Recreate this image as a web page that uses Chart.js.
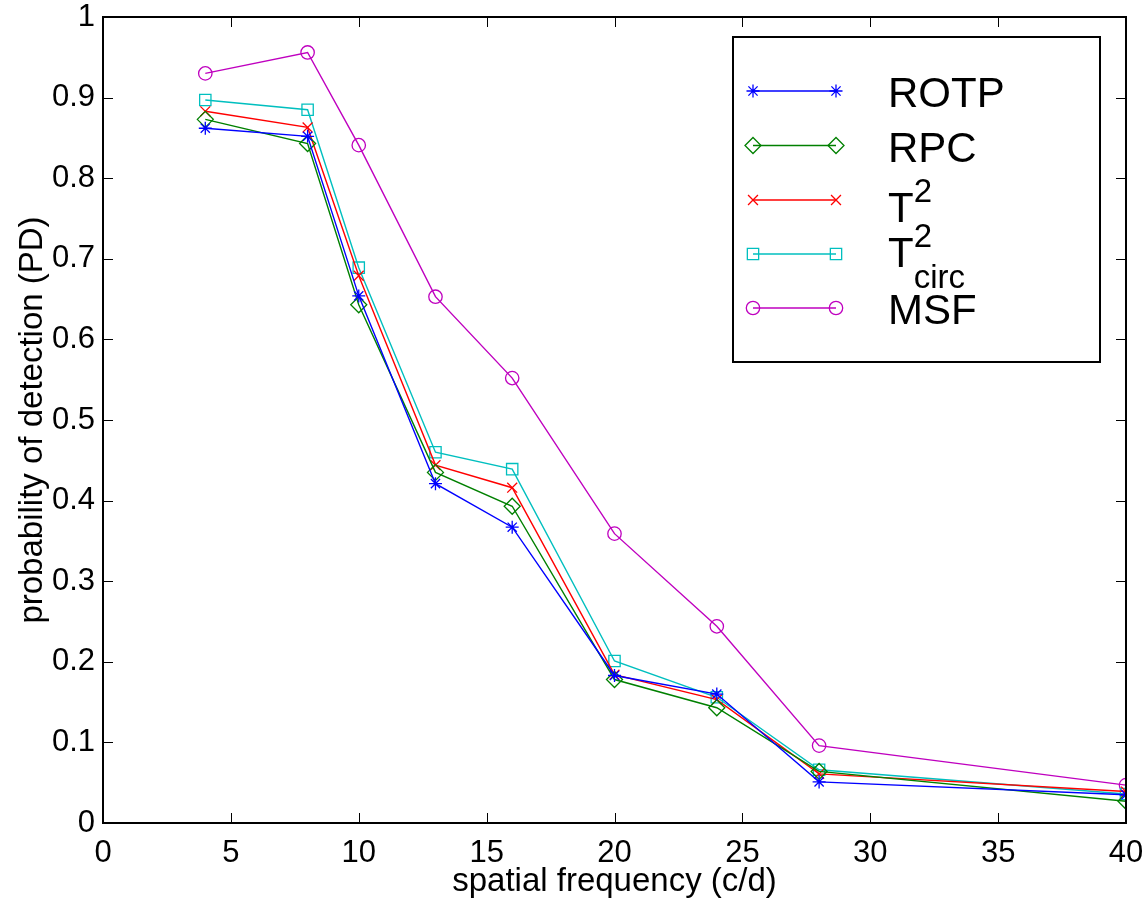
<!DOCTYPE html>
<html>
<head>
<meta charset="utf-8">
<script src="https://cdn.jsdelivr.net/npm/chart.js@4.4.1/dist/chart.umd.min.js"></script>
<style>
  html, body { margin: 0; padding: 0; background: #ffffff; }
  #wrap { width: 1147px; height: 903px; }
</style>
</head>
<body>
<div id="wrap"><canvas id="c" width="1147" height="903"></canvas></div>
<script>
// ---- data ----
const freq  = [4, 8, 10, 13, 16, 20, 24, 28, 40];
const rotp  = [0.862, 0.852, 0.654, 0.421, 0.367, 0.183, 0.160, 0.051, 0.035];
const rpc   = [0.873, 0.843, 0.643, 0.435, 0.393, 0.178, 0.143, 0.064, 0.027];
const t2    = [0.883, 0.863, 0.679, 0.444, 0.416, 0.184, 0.153, 0.061, 0.039];
const t2c   = [0.897, 0.885, 0.689, 0.460, 0.439, 0.201, 0.156, 0.066, 0.036];
const msf   = [0.930, 0.956, 0.841, 0.653, 0.552, 0.359, 0.244, 0.096, 0.047];

const seriesNames = ['ROTP', 'RPC', 'T2', 'T2circ', 'MSF'];
const legendMain = ['ROTP', 'RPC', 'T', 'T', 'MSF'];
const legendSup  = ['', '', '2', '2', ''];
const legendSub  = ['', '', '', 'circ', ''];
const xTicks = [0, 5, 10, 15, 20, 25, 30, 35, 40];
const yTicks = [0, 0.1, 0.2, 0.3, 0.4, 0.5, 0.6, 0.7, 0.8, 0.9, 1];
const xTitle = 'spatial frequency (c/d)';
const yTitle = 'probability of detection (PD)';

const colors = ['#0000ff', '#008000', '#ff0000', '#00bfbf', '#bf00bf'];
const styles = ['star', 'rectRot', 'crossRot', 'rect', 'circle'];
const radii  = [6.5, 8, 7, 8, 6.7];
const allValues = [rotp, rpc, t2, t2c, msf];

const FONT = '"Liberation Sans", Arial, Helvetica, sans-serif';

const datasets = allValues.map((vals, i) => ({
  label: seriesNames[i],
  data: freq.map((f, j) => ({ x: f, y: vals[j] })),
  borderColor: colors[i],
  backgroundColor: 'rgba(0,0,0,0)',
  borderWidth: 1.4,
  pointStyle: styles[i],
  pointRadius: radii[i],
  pointBorderWidth: 1.3,
  pointBorderColor: colors[i],
  pointBackgroundColor: 'rgba(0,0,0,0)',
  tension: 0,
  fill: false
}));

function zeroPad(scale) {
  scale.paddingTop = 0; scale.paddingBottom = 0;
  scale.paddingLeft = 0; scale.paddingRight = 0;
}

// frame + inward ticks
const framePlugin = {
  id: 'frame',
  afterDatasetsDraw(chart) {
    const { ctx, chartArea: a, scales } = chart;
    ctx.save();
    ctx.strokeStyle = '#000';
    ctx.lineWidth = 1;
    const tl = 10;
    xTicks.forEach(v => {
      const px = Math.round(scales.x.getPixelForValue(v)) + 0.5;
      ctx.beginPath();
      ctx.moveTo(px, a.bottom); ctx.lineTo(px, a.bottom - tl);
      ctx.moveTo(px, a.top); ctx.lineTo(px, a.top + tl);
      ctx.stroke();
    });
    yTicks.forEach(v => {
      const py = Math.round(scales.y.getPixelForValue(v)) + 0.5;
      ctx.beginPath();
      ctx.moveTo(a.left, py); ctx.lineTo(a.left + tl, py);
      ctx.moveTo(a.right, py); ctx.lineTo(a.right - tl, py);
      ctx.stroke();
    });
    ctx.lineWidth = 2;
    ctx.strokeRect(a.left, a.top, a.right - a.left, a.bottom - a.top);
    ctx.restore();
  }
};

// MATLAB-style legend box
const legendPlugin = {
  id: 'mlegend',
  afterDraw(chart) {
    const ctx = chart.ctx;
    const box = { l: 733, t: 37, r: 1100, b: 362 };
    ctx.save();
    ctx.fillStyle = '#fff';
    ctx.fillRect(box.l, box.t, box.r - box.l, box.b - box.t);
    ctx.strokeStyle = '#000';
    ctx.lineWidth = 2;
    ctx.strokeRect(box.l, box.t, box.r - box.l, box.b - box.t);
    const rowY = [91, 145.5, 200, 254, 308];
    const x1 = 753, x2 = 836, tx = 888;
    const mainFont = '42px ' + FONT;
    const smallFont = '33px ' + FONT;
    chart.data.datasets.forEach((ds, i) => {
      const y = rowY[i];
      ctx.strokeStyle = ds.borderColor;
      ctx.lineWidth = ds.borderWidth;
      ctx.beginPath(); ctx.moveTo(x1, y); ctx.lineTo(x2, y); ctx.stroke();
      const opt = { pointStyle: ds.pointStyle, radius: ds.pointRadius, borderWidth: ds.pointBorderWidth, rotation: 0 };
      ctx.fillStyle = 'rgba(0,0,0,0)';
      ctx.strokeStyle = ds.borderColor;
      ctx.lineWidth = ds.pointBorderWidth;
      Chart.helpers.drawPoint(ctx, opt, x1, y);
      ctx.strokeStyle = ds.borderColor;
      Chart.helpers.drawPoint(ctx, opt, x2, y);

      ctx.fillStyle = '#000';
      ctx.textAlign = 'left';
      ctx.textBaseline = 'alphabetic';
      ctx.font = mainFont;
      let base = y + 16;
      if (legendSup[i] && legendSub[i]) base = y + 13;
      else if (legendSup[i]) base = y + 22;
      ctx.fillText(legendMain[i], tx, base);
      const w = ctx.measureText(legendMain[i]).width;
      ctx.font = smallFont;
      if (legendSup[i]) ctx.fillText(legendSup[i], tx + w, base - 20);
      if (legendSub[i]) ctx.fillText(legendSub[i], tx + w, base + 21);
    });
    ctx.restore();
  }
};

new Chart(document.getElementById('c'), {
  type: 'line',
  data: { datasets },
  plugins: [framePlugin, legendPlugin],
  options: {
    responsive: false,
    animation: false,
    devicePixelRatio: 1,
    layout: { padding: { left: 0, right: 21, top: 17, bottom: 0 } },
    plugins: { legend: { display: false }, tooltip: { enabled: false }, title: { display: false } },
    scales: {
      x: {
        type: 'linear',
        min: 0, max: 40,
        afterBuildTicks(scale) { scale.ticks = xTicks.map(v => ({ value: v })); },
        afterFit(scale) { scale.height = 80; zeroPad(scale); },
        grid: { display: false, drawTicks: false },
        border: { display: false },
        ticks: { color: '#000', font: { family: FONT, size: 31 }, padding: 12, maxRotation: 0, autoSkip: false,
                 callback: v => String(v) },
        title: { display: true, text: xTitle, color: '#000', font: { family: FONT, size: 33 }, padding: { top: 0, bottom: 1 } }
      },
      y: {
        type: 'linear',
        min: 0, max: 1,
        afterBuildTicks(scale) { scale.ticks = yTicks.map(v => ({ value: v })); },
        afterFit(scale) { scale.width = 103; zeroPad(scale); },
        grid: { display: false, drawTicks: false },
        border: { display: false },
        ticks: { color: '#000', font: { family: FONT, size: 31 }, padding: 8, autoSkip: false,
                 callback: v => String(Math.round(v * 10) / 10) },
        title: { display: true, text: yTitle, color: '#000', font: { family: FONT, size: 33 }, padding: { top: 13, bottom: 0 } }
      }
    }
  }
});
</script>
</body>
</html>
